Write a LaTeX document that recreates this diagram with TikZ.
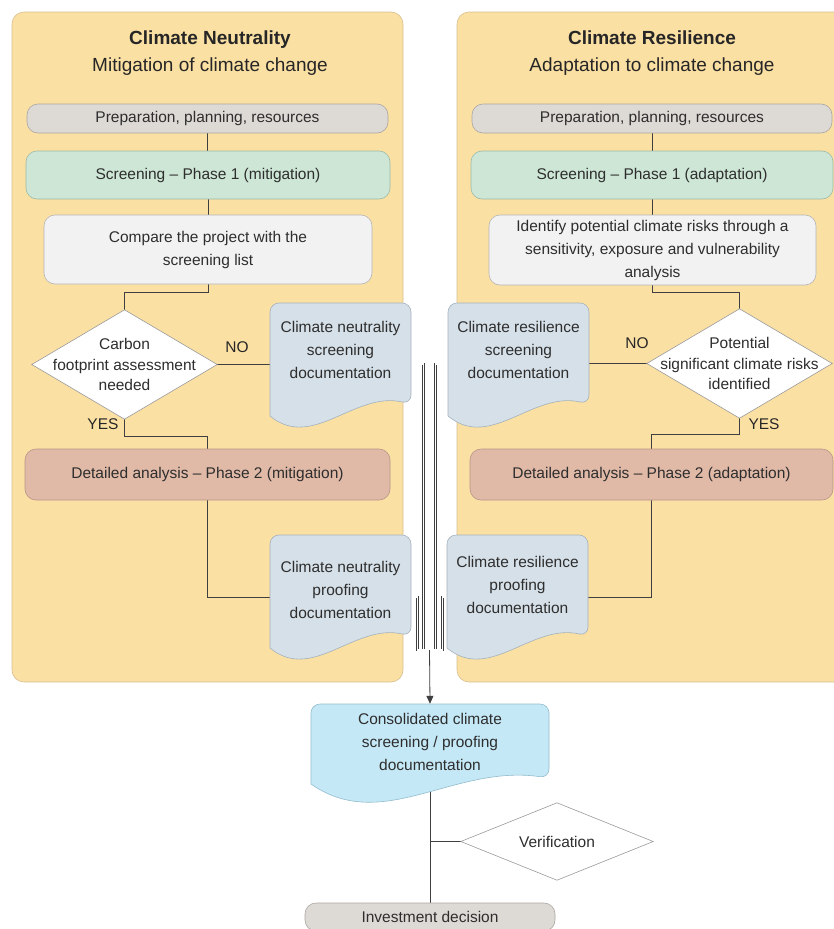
\documentclass[tikz,border=0pt]{standalone}
\usepackage{fontspec}
\setmainfont{Liberation Sans}
\usetikzlibrary{calc,arrows.meta}
\pgfdeclarelayer{panel}
\pgfdeclarelayer{conn}
\pgfdeclarelayer{shp}
\pgfsetlayers{panel,conn,shp,main}

\definecolor{panelF}{HTML}{FBE0A4}
\definecolor{panelB}{HTML}{D8C08E}
\definecolor{prepF}{HTML}{DDD9D5}
\definecolor{prepB}{HTML}{ABA6A1}
\definecolor{scrF}{HTML}{CDE6D5}
\definecolor{scrB}{HTML}{9DBBA8}
\definecolor{taskF}{HTML}{F2F2F2}
\definecolor{taskB}{HTML}{B5B5B5}
\definecolor{detF}{HTML}{E0B9A7}
\definecolor{detB}{HTML}{B8968A}
\definecolor{docF}{HTML}{D6E0E8}
\definecolor{docB}{HTML}{A3B1BD}
\definecolor{consF}{HTML}{C5E8F6}
\definecolor{consB}{HTML}{92BCCD}
\definecolor{diaB}{HTML}{9A9A9A}
\definecolor{lineC}{HTML}{3F3F3F}
\definecolor{txtC}{HTML}{2E2E2E}

% L T R B rise c1 c2 style
\newcommand\docshape[8]{%
  \path[#8] (#1,#4) [rounded corners=9pt] -- (#1,#2) -- (#3,#2) -- (#3,{#4-#5}) [sharp corners]
    .. controls ({#1+0.6*(#3-#1)},{#4+#7}) and ({#1+0.3*(#3-#1)},{#4+#6}) .. (#1,#4) -- cycle;}

\tikzset{
 base/.style={text=txtC, font=\fontsize{15.5}{23}\selectfont, align=center, inner sep=0pt},
 rbox/.style={base, rounded corners=11pt, line width=0.6pt},
 prepbox/.style={rbox, draw=prepB, fill=prepF},
 scrbox/.style={rbox, draw=scrB, fill=scrF},
 taskbox/.style={rbox, draw=taskB, fill=taskF},
 detbox/.style={rbox, draw=detB, fill=detF},
 docfill/.style={draw=docB, fill=docF, line width=0.6pt},
 consfill/.style={draw=consB, fill=consF, line width=0.6pt},
 dtxt/.style={base},
 diatxt/.style={base, font=\fontsize{15.5}{20.5}\selectfont},
 diashape/.style={draw=diaB, fill=white, line width=0.6pt},
 panelbox/.style={draw=panelB, fill=panelF, rounded corners=12pt, line width=0.6pt, inner sep=0pt},
 conn/.style={draw=lineC, line width=0.8pt},
 dconn/.style={draw=lineC, line width=0.55pt, double=white, double distance=1.6pt},
 title/.style={base, text=black!85, font=\fontsize{19}{27}\selectfont},
 yn/.style={base, text=black!85},
}

\begin{document}
\begin{tikzpicture}[x=1pt,y=-1pt]
\useasboundingbox (0,0) rectangle (833,929);

\begin{pgfonlayer}{panel}
\node[panelbox, minimum width=391pt, minimum height=670pt] (panelL) at (207.5,347) {};
\node[panelbox, minimum width=393pt, minimum height=670pt] (panelR) at (653.5,347) {};
\end{pgfonlayer}

% titles
\node[title] (tL) at (210,53.5) {\textbf{Climate Neutrality}\\Mitigation of climate change};
\node[title] (tR) at (652,53.5) {\textbf{Climate Resilience}\\Adaptation to climate change};

% left column
\node[prepbox, minimum width=361pt, minimum height=29pt] (prepL) at (207.5,118.5) {Preparation, planning, resources};
\node[scrbox, minimum width=364pt, minimum height=48pt] (scrL) at (208,175) {Screening – Phase 1 (mitigation)};
\node[taskbox, minimum width=328pt, minimum height=69pt] (cmpL) at (208,249.5) {Compare the project with the\\screening list};
\node[diatxt, minimum width=185pt, minimum height=109pt] (diaL) at (124.5,364.5) {Carbon\\footprint assessment\\needed};
\docshape{270}{303}{411}{416}{12}{35}{-25}{docfill}
\node[dtxt, minimum width=141pt, minimum height=80pt] (docA) at (340.5,350) {Climate neutrality\\screening\\documentation};
\node[detbox, minimum width=365pt, minimum height=51pt] (detL) at (207.5,474.5) {Detailed analysis – Phase 2 (mitigation)};
\docshape{270}{535}{411}{648}{12}{35}{-25}{docfill}
\node[dtxt, minimum width=141pt, minimum height=80pt] (docB) at (340.5,590) {Climate neutrality\\proofing\\documentation};

% right column
\node[prepbox, minimum width=360pt, minimum height=29pt] (prepR) at (652,118.5) {Preparation, planning, resources};
\node[scrbox, minimum width=362pt, minimum height=48pt] (scrR) at (652,175) {Screening – Phase 1 (adaptation)};
\node[taskbox, minimum width=327pt, minimum height=70pt] (idR) at (652.5,250) {Identify potential climate risks through a\\sensitivity, exposure and vulnerability\\analysis};
\node[diatxt, minimum width=185pt, minimum height=109pt] (diaR) at (739.5,363.5) {Potential\\significant climate risks\\identified};
\docshape{448}{303}{589}{416}{12}{35}{-25}{docfill}
\node[dtxt, minimum width=141pt, minimum height=80pt] (docC) at (518.5,350) {Climate resilience\\screening\\documentation};
\node[detbox, minimum width=363pt, minimum height=51pt] (detR) at (651.5,474.5) {Detailed analysis – Phase 2 (adaptation)};
\docshape{447}{535}{588}{648}{12}{35}{-25}{docfill}
\node[dtxt, minimum width=141pt, minimum height=80pt] (docD) at (517.5,585) {Climate resilience\\proofing\\documentation};

% bottom
\docshape{311}{704}{549}{784}{6}{50}{-20}{consfill}
\node[dtxt, minimum width=238pt, minimum height=75pt] (docE) at (430,741.5) {Consolidated climate\\screening / proofing\\documentation};
\node[diatxt, minimum width=192pt, minimum height=77pt] (diaV) at (557,841.5) {Verification};
\node[prepbox, minimum width=250pt, minimum height=28pt] (inv) at (430,917) {Investment decision};

% labels
\node[yn] (noL) at (237,347) {NO};
\node[yn] (yesL) at (103,424) {YES};
\node[yn] (noR) at (637,343) {NO};
\node[yn] (yesR) at (764,424) {YES};

\begin{pgfonlayer}{shp}
\foreach \d in {diaL,diaR,diaV}
  \path[diashape] (\d.west) -- (\d.north) -- (\d.east) -- (\d.south) -- cycle;
\end{pgfonlayer}

\begin{pgfonlayer}{conn}
\draw[conn] (prepL.south) -- (prepL.south |- scrL.north);
\draw[conn] (scrL.south) -- (scrL.south |- cmpL.north);
\draw[conn] (cmpL.south) -- ++(0,8) -| (diaL.north);
\draw[conn] (diaL.east) -- (diaL.east -| docA.west);
\draw[conn] (diaL.south) -- ++(0,17) -| (detL.north);
\draw[conn] (detL.south) |- ($(docB.west)+(0,7)$);

\draw[conn] (prepR.south) -- (prepR.south |- scrR.north);
\draw[conn] (scrR.south) -- (scrR.south |- idR.north);
\draw[conn] (idR.south) -- ++(0,7) -| (diaR.north);
\draw[conn] (diaR.west) -- (diaR.west -| docC.east);
\draw[conn] (diaR.south) -- ++(0,16) -| (detR.north);
\draw[conn] (detR.south) |- ($(docD.east)+(0,12)$);

\coordinate (m) at (429.5,650);
\draw[dconn] ($(docA.east)+(0,14)$) -| ($(m)+(-6,0)$) -- (m);
\draw[dconn] ($(docB.east)+(0,7)$) -| ($(m)+(-12,0)$) -- (m);
\draw[dconn] ($(docC.west)+(0,14)$) -| ($(m)+(6,0)$) -- (m);
\draw[dconn] ($(docD.west)+(0,12)$) -| ($(m)+(13,0)$) -- (m);
\draw[conn, -{Triangle[length=8pt,width=7pt]}] (m) -- (docE.north);
\draw[conn] (docE.south) -- (inv.north);
\draw[conn] (docE.south |- diaV.west) -- (diaV.west);
\end{pgfonlayer}
\end{tikzpicture}
\end{document}
